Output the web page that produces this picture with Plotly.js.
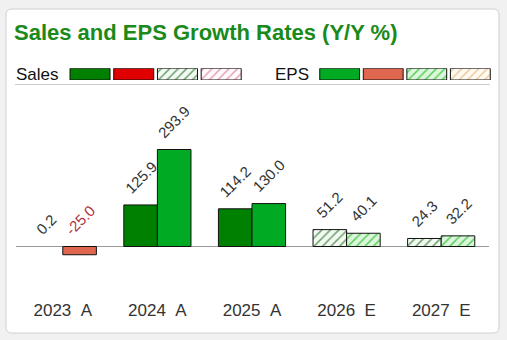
<!DOCTYPE html>
<html>
<head>
<meta charset="utf-8">
<script src="https://cdn.plot.ly/plotly-3.0.1.min.js"></script>
<style>
  html, body { margin: 0; padding: 0; background: #f1f1f1; }
  #chart { width: 507px; height: 340px; }
</style>
</head>
<body>
<div id="chart"></div>
<script>
// ---- data ----
const categories = ['2023\u00a0\u00a0A', '2024\u00a0\u00a0A', '2025\u00a0\u00a0A', '2026\u00a0\u00a0E', '2027\u00a0\u00a0E'];
const salesGrowth = [0.2, 125.9, 114.2, 51.2, 24.3];
const epsGrowth = [-25.0, 293.9, 130.0, 40.1, 32.2];
const isEstimate = [false, false, false, true, true];
const legendSwatches = [0, 1, 2, 3];

// ---- helpers (pixel -> paper) ----
const W = 507, H = 340;
const px = x => x / W;
const py = y => 1 - y / H;
const FONT = 'Arial, "Liberation Sans", sans-serif';

const salesStyle = {
  pos: '#008000', neg: '#e00000',
  estBg: '#f2fbf2', estFg: '#6f9d6f',
  estNegBg: '#fffafb', estNegFg: '#e6a2b6'
};
const epsStyle = {
  pos: '#00aa22', neg: '#e0674f',
  estBg: '#dbf7db', estFg: '#5ccd5c',
  estNegBg: '#fffaf0', estNegFg: '#efc9a0'
};

const PAT_SIZE = 6, PAT_SOLID = 0.25;

function actualTrace(vals, st, group) {
  return {
    type: 'bar', x: categories, y: vals.map((v, i) => isEstimate[i] ? null : v),
    offsetgroup: group,
    marker: {
      color: vals.map(v => v < 0 ? st.neg : st.pos),
      line: { color: '#111', width: vals.map(v => Math.abs(v) < 1 ? 0 : 1) }
    },
    hoverinfo: 'skip', showlegend: false
  };
}
function estimateTrace(vals, st, group) {
  return {
    type: 'bar', x: categories, y: vals.map((v, i) => isEstimate[i] ? v : null),
    offsetgroup: group,
    marker: {
      color: st.estBg,
      line: { color: '#111', width: 1 },
      pattern: { shape: '/', bgcolor: st.estBg, fgcolor: st.estFg, size: PAT_SIZE, solidity: PAT_SOLID, fillmode: 'replace' }
    },
    hoverinfo: 'skip', showlegend: false
  };
}

const traces = [
  actualTrace(salesGrowth, salesStyle, 'sales'),
  estimateTrace(salesGrowth, salesStyle, 'sales'),
  actualTrace(epsGrowth, epsStyle, 'eps'),
  estimateTrace(epsGrowth, epsStyle, 'eps')
];

// legend swatches: actual +, actual -, estimate +, estimate -
function legendSwatch(idx, color, fg, xa, ya) {
  const t = {
    type: 'bar', x: [legendSwatches[idx]], y: [1], base: 0, width: 0.915,
    xaxis: xa, yaxis: ya, offsetgroup: 'leg',
    marker: { color: color, line: { color: '#111', width: 1 } },
    hoverinfo: 'skip', showlegend: false
  };
  if (fg) t.marker.pattern = { shape: '/', bgcolor: color, fgcolor: fg, size: PAT_SIZE, solidity: PAT_SOLID, fillmode: 'replace' };
  return t;
}
[[salesStyle, 'x2', 'y2'], [epsStyle, 'x3', 'y3']].forEach(([st, xa, ya]) => {
  traces.push(legendSwatch(0, st.pos, null, xa, ya));
  traces.push(legendSwatch(1, st.neg, null, xa, ya));
  traces.push(legendSwatch(2, st.estBg, st.estFg, xa, ya));
  traces.push(legendSwatch(3, st.estNegBg, st.estNegFg, xa, ya));
});

// value labels
const annotations = [];
const barOffset = 16.8;
function addLabels(vals, shift) {
  vals.forEach((v, i) => {
    annotations.push({
      xref: 'x', yref: 'y', x: categories[i], y: Math.max(v, 0),
      xshift: shift, yshift: 7,
      text: v.toFixed(1), textangle: -45, showarrow: false,
      xanchor: 'center', yanchor: 'bottom', borderpad: 0,
      font: { family: FONT, size: 15, color: v < 0 ? '#b0333f' : '#333333' }
    });
  });
}
addLabels(salesGrowth, -barOffset);
addLabels(epsGrowth, barOffset);

annotations.push({
  xref: 'paper', yref: 'paper', x: px(14), y: py(74), xanchor: 'left', yanchor: 'middle',
  text: 'Sales', showarrow: false, font: { family: FONT, size: 17, color: '#111' }
});
annotations.push({
  xref: 'paper', yref: 'paper', x: px(273), y: py(74), xanchor: 'left', yanchor: 'middle',
  text: 'EPS', showarrow: false, font: { family: FONT, size: 17, color: '#111' }
});

// card outline with rounded corners
const cx0 = 6, cy0 = 9, cx1 = 499, cy1 = 333, r = 6;
const P = (x, y) => px(x) + ',' + py(y);
const cardPath = 'M ' + P(cx0 + r, cy0) + ' L ' + P(cx1 - r, cy0) + ' Q ' + P(cx1, cy0) + ' ' + P(cx1, cy0 + r) +
  ' L ' + P(cx1, cy1 - r) + ' Q ' + P(cx1, cy1) + ' ' + P(cx1 - r, cy1) +
  ' L ' + P(cx0 + r, cy1) + ' Q ' + P(cx0, cy1) + ' ' + P(cx0, cy1 - r) +
  ' L ' + P(cx0, cy0 + r) + ' Q ' + P(cx0, cy0) + ' ' + P(cx0 + r, cy0) + ' Z';

const shapes = [
  { type: 'path', xref: 'paper', yref: 'paper', path: cardPath, fillcolor: '#ffffff',
    line: { color: '#d0d0d0', width: 1 }, layer: 'below' },
  { type: 'line', xref: 'paper', yref: 'paper', x0: px(15), x1: px(490), y0: py(84.5), y1: py(84.5),
    line: { color: '#cccccc', width: 1 } }
];

const hiddenAxis = { showgrid: false, zeroline: false, showline: false, showticklabels: false, ticks: '', fixedrange: true };

const layout = {
  width: W, height: H,
  margin: { l: 0, r: 0, t: 0, b: 0 },
  paper_bgcolor: '#f1f1f1',
  plot_bgcolor: 'rgba(0,0,0,0)',
  font: { family: FONT, color: '#333' },
  title: {
    text: 'Sales and EPS Growth Rates (Y/Y %)',
    font: { family: FONT, size: 22, color: '#1a8a1a', weight: 'bold' },
    xref: 'paper', yref: 'paper', x: px(14), xanchor: 'left', y: py(32), yanchor: 'middle'
  },
  barmode: 'group', bargap: 0.29, bargroupgap: 0,
  showlegend: false,
  xaxis: {
    domain: [px(15.5), px(488.5)], type: 'category',
    showgrid: false, zeroline: false, showline: false, ticks: '',
    tickfont: { family: FONT, size: 17, color: '#333' }, fixedrange: true
  },
  yaxis: Object.assign({}, hiddenAxis, {
    domain: [py(298), py(95)], range: [-156.1, 459.1],
    zeroline: true, zerolinecolor: '#9a9a9a', zerolinewidth: 1
  }),
  xaxis2: Object.assign({}, hiddenAxis, { domain: [px(68.15), px(243.05)], range: [-0.5, 3.5], anchor: 'y2' }),
  yaxis2: Object.assign({}, hiddenAxis, { domain: [py(80), py(68.3)], range: [0, 1], anchor: 'x2' }),
  xaxis3: Object.assign({}, hiddenAxis, { domain: [px(317.9), px(492.1)], range: [-0.5, 3.5], anchor: 'y3' }),
  yaxis3: Object.assign({}, hiddenAxis, { domain: [py(80), py(68.3)], range: [0, 1], anchor: 'x3' }),
  annotations: annotations,
  shapes: shapes
};

Plotly.newPlot('chart', traces, layout, { staticPlot: true, displayModeBar: false });
</script>
</body>
</html>
